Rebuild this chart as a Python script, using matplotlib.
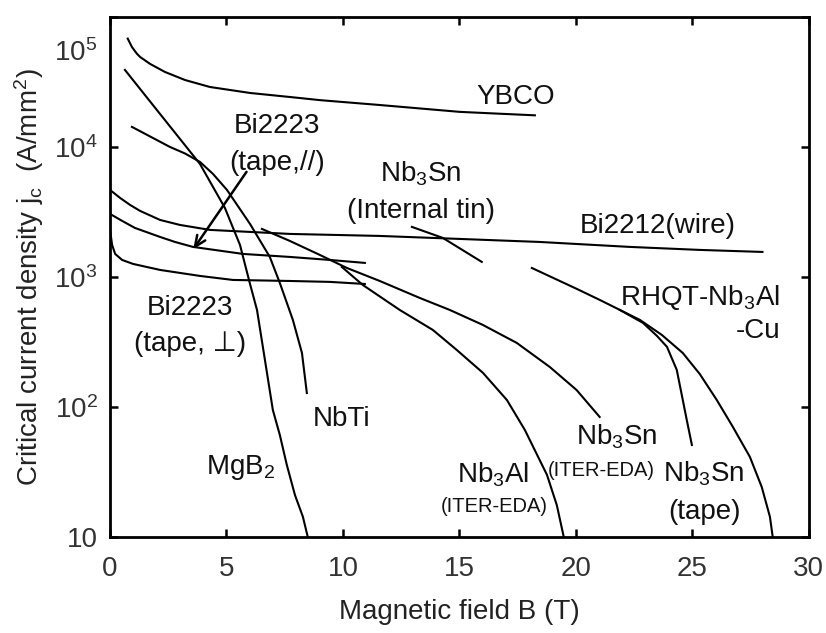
import matplotlib
matplotlib.use("Agg")
import matplotlib.pyplot as plt
import matplotlib.transforms as mtransforms

plt.rcParams["font.family"] = ["Liberation Sans", "DejaVu Sans"]
plt.rcParams["mathtext.fontset"] = "custom"
plt.rcParams["mathtext.rm"] = "Liberation Sans"
plt.rcParams["mathtext.it"] = "Liberation Sans:italic"

# Critical current density curves, B in tesla, Jc in A/mm^2
ybco_b = [0.76, 0.94, 1.15, 1.29, 1.72, 2.36, 3.22, 4.29, 6.01, 7.73, 9.01, 11.59, 15.02, 16.74, 18.24]
ybco_j = [68100, 58700, 52200, 49200, 43500, 37700, 32700, 28900, 26000, 24200, 22900, 21000,
          18600, 18000, 17500]

mgb2_b = [0.64, 2.15, 3.86, 4.93, 5.58, 6.01, 6.31, 6.65, 6.99, 7.29, 7.59, 7.94, 8.28, 8.49]
mgb2_j = [39100, 17900, 7400, 3400, 1762, 883, 557, 230, 94.8, 60.9, 35.8, 21.0, 14.3, 10]

nbti_b = [0.94, 2.57, 3.22, 3.86, 4.42, 5.02, 6.01, 6.86, 7.29, 7.85, 8.24, 8.45]
nbti_j = [14260, 10000, 8900, 7670, 6200, 4670, 2557, 1425, 899, 467, 260, 128]

bi2212_b = [0.0, 0.43, 0.86, 1.29, 2.15, 3.00, 4.29, 7.72, 11.58, 15.02, 18.45, 22.31, 25.31, 28.01]
bi2212_j = [4670, 4055, 3580, 3221, 2743, 2512, 2300, 2142, 2067, 1960, 1858, 1702, 1614, 1557]

bi2223_par_b = [0.0, 0.52, 1.07, 2.15, 2.79, 3.56, 5.71, 7.72, 9.44, 10.94]
bi2223_par_j = [3053, 2698, 2382, 2030, 1858, 1702, 1503, 1425, 1351, 1282]

bi2223_perp_b = [0.0, 0.09, 0.22, 0.52, 0.99, 2.15, 3.86, 5.28, 7.72, 9.44, 10.94]
bi2223_perp_j = [2300, 1762, 1503, 1351, 1259, 1132, 1018, 948, 931, 916, 883]

nb3sn_iter_b = [6.52, 7.72, 9.01, 10.17, 11.58, 13.30, 14.59, 16.00, 17.46, 18.88, 20.03, 21.02]
nb3sn_iter_j = [2340, 1892, 1476, 1172, 931, 689, 557, 428, 311, 203, 135, 83.8]

nb3al_iter_b = [9.95, 10.85, 12.44, 13.86, 14.89, 16.01, 17.04, 17.81, 18.76, 19.18, 19.48]
nb3al_iter_j = [1194, 868, 557, 391, 274, 183, 113, 66.5, 30, 17.6, 10]

nb3sn_int_b = [12.96, 14.29, 15.96]
nb3sn_int_j = [2426, 1995, 1305]

rhqt_b = [18.11, 20.04, 21.03, 22.75, 23.69, 24.59, 25.32, 26.05, 26.74, 27.47, 27.98, 28.33, 28.45]
rhqt_j = [1172, 809, 665, 467, 358, 260, 179, 113, 70.2, 41.3, 24.2, 14.3, 10]

nb3sn_tape_b = [21.89, 22.88, 23.48, 23.91, 24.33, 24.59, 24.76, 24.98]
nb3sn_tape_j = [557, 443, 352, 290, 193, 113, 79.4, 51]

curves = [
    (ybco_b, ybco_j), (mgb2_b, mgb2_j), (nbti_b, nbti_j), (bi2212_b, bi2212_j),
    (bi2223_par_b, bi2223_par_j), (bi2223_perp_b, bi2223_perp_j),
    (nb3sn_iter_b, nb3sn_iter_j), (nb3al_iter_b, nb3al_iter_j),
    (nb3sn_int_b, nb3sn_int_j), (rhqt_b, rhqt_j), (nb3sn_tape_b, nb3sn_tape_j),
]

x_ticks = [0, 5, 10, 15, 20, 25, 30]
y_ticks = [10, 1e2, 1e3, 1e4, 1e5]
y_tick_labels = ["10", "10$^2$", "10$^3$", "10$^4$", "10$^5$"]

fig = plt.figure(figsize=(8.26, 6.33), dpi=100)
ax = fig.add_axes([0.1332, 0.1517, 0.846, 0.8216])

for b, j in curves:
    ax.plot(b, j, color="black", lw=1.5, solid_joinstyle="round")

ax.set_yscale("log")
ax.set_xlim(0, 30)
ax.set_ylim(10, 1e5)
ax.set_xticks(x_ticks)
ax.set_xticklabels([str(t) for t in x_ticks])
ax.set_yticks(y_ticks)
ax.set_yticklabels(y_tick_labels)
ax.minorticks_off()
ax.tick_params(direction="in", length=6, width=1.8, top=True, right=True,
               labelsize=20, labelcolor="#333333")
ax.tick_params(axis="x", pad=14)
ax.tick_params(axis="y", pad=9)
for s in ax.spines.values():
    s.set_linewidth(2.0)

# the top decade label sits a little below the frame edge
top_label = ax.get_yticklabels()[-1]
top_label.set_transform(top_label.get_transform() +
                        mtransforms.ScaledTranslation(0, -0.33, fig.dpi_scale_trans))

ax.set_xlabel("Magnetic field B (T)", fontsize=20, color="#222222", labelpad=12)
ax.set_ylabel("Critical current density j$_\\mathrm{c}$  (A/mm$^2$)", fontsize=20,
              color="#222222", labelpad=6)

big = dict(fontsize=20, color="#111111", ha="center", va="center")
small = dict(fontsize=14.5, color="#111111", ha="center", va="center")

ax.text(17.42, 10**4.385, "YBCO", **big)
ax.text(7.17, 10**4.015, "Bi2223\n(tape,//)", linespacing=1.55, **big)
ax.text(13.35, 10**3.654, "Nb$_3$Sn\n(Internal tin)", linespacing=1.5, **big)
ax.text(23.52, 10**3.392, "Bi2212(wire)", **big)
ax.text(28.76, 10**2.719, "RHQT-Nb$_3$Al\n-Cu", fontsize=20, color="#111111",
        ha="right", va="center", multialignment="right", linespacing=1.3)
ax.text(3.43, 10**2.623, "Bi2223\n(tape, \u22a5)", linespacing=1.5, **big)
ax.text(5.62, 10**1.538, "MgB$_2$", **big)
ax.text(9.96, 10**1.908, "NbTi", **big)
ax.text(16.44, 10**1.477, "Nb$_3$Al", **big)
ax.text(16.48, 10**1.231, "(ITER-EDA)", **small)
ax.text(21.76, 10**1.769, "Nb$_3$Sn", **big)
ax.text(21.07, 10**1.508, "(ITER-EDA)", **small)
ax.text(25.49, 10**1.485, "Nb$_3$Sn", **big)
ax.text(25.54, 10**1.192, "(tape)", **big)

ax.annotate("", xy=(3.57, 1629), xytext=(5.86, 6430),
            arrowprops=dict(arrowstyle="->,head_length=0.8,head_width=0.35",
                            color="black", lw=1.8, shrinkA=0, shrinkB=0))

fig.savefig("out.png", dpi=100)
